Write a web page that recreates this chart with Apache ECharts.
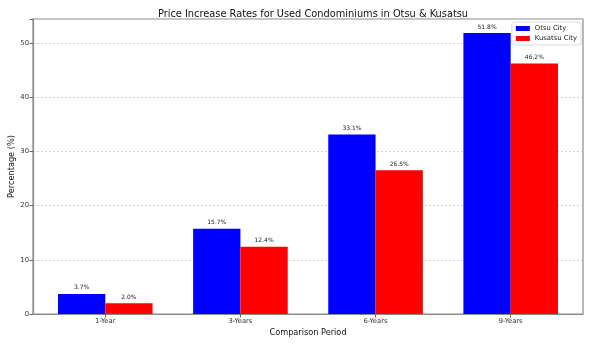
<!DOCTYPE html>
<html>
<head>
<meta charset="utf-8">
<script src="https://cdn.jsdelivr.net/npm/echarts@6/dist/echarts.min.js"></script>
<style>html,body{margin:0;padding:0;background:#fff}#c{width:591px;height:345px}</style>
</head>
<body>
<div id="c"></div>
<script>
const categories = ['1-Year', '3-Years', '6-Years', '9-Years'];
const otsuValues = [3.7, 15.7, 33.1, 51.8];
const kusatsuValues = [2.0, 12.4, 26.5, 46.2];
const yTicks = [0, 10, 20, 30, 40, 50];
const seriesNames = ['Otsu City', 'Kusatsu City'];
const titleText = 'Price Increase Rates for Used Condominiums in Otsu & Kusatsu';
const xLabel = 'Comparison Period';
const yLabel = 'Percentage (%)';

const font = 'DejaVu Sans';
const chart = echarts.init(document.getElementById('c'), null, {renderer: 'canvas'});
const idx = categories.map((c, i) => i);
const frame = '#8c8c8c';
chart.setOption({
  animation: false,
  textStyle: {fontFamily: font},
  title: {text: titleText, left: 308, textAlign: 'center', top: 4,
    textStyle: {fontFamily: font, fontSize: 9.8, fontWeight: 'normal', color: '#111'}},
  legend: {data: seriesNames, orient: 'vertical', right: 10, top: 22,
    itemWidth: 14, itemHeight: 5, itemGap: 3, padding: [3, 4],
    backgroundColor: 'rgba(255,255,255,0.8)', borderColor: '#dcdcdc', borderWidth: 1, borderRadius: 2,
    textStyle: {fontFamily: font, fontSize: 6.8, color: '#222'}, icon: 'rect'},
  grid: {left: 33, right: 8, top: 19, bottom: 31, show: true, borderColor: frame, borderWidth: 1.2,
    containLabel: false, outerBoundsMode: 'none'},
  xAxis: {type: 'value', min: -0.535, max: 3.535,
    name: xLabel, nameLocation: 'middle', nameGap: 15, nameMoveOverlap: false,
    nameTextStyle: {fontFamily: font, fontSize: 8.2, color: '#111'},
    axisLine: {show: true, onZero: false, lineStyle: {color: frame, width: 1.2}},
    axisTick: {show: true, customValues: idx, length: 3.5, lineStyle: {color: '#666'}},
    axisLabel: {customValues: idx, formatter: v => categories[Math.round(v)], fontSize: 6.8, color: '#333', margin: 4, fontFamily: font},
    splitLine: {show: false}},
  yAxis: {type: 'value', min: 0, max: 54.39, interval: 10,
    name: yLabel, nameLocation: 'middle', nameGap: 17, nameRotate: 90, nameMoveOverlap: false,
    nameTextStyle: {fontFamily: font, fontSize: 8.2, color: '#111'},
    axisLine: {show: true, onZero: false, lineStyle: {color: frame, width: 1.2}},
    axisTick: {show: true, length: 3.5, lineStyle: {color: '#666'}},
    axisLabel: {fontSize: 6.8, color: '#333', margin: 4, fontFamily: font,
      formatter: v => yTicks.includes(v) ? String(v) : ''},
    splitLine: {show: true, lineStyle: {color: '#c8c8c8', type: [2, 2], width: 0.8}}},
  series: [
    {name: seriesNames[0], type: 'bar', barWidth: '35%', barGap: '0%',
      data: otsuValues.map((v, i) => [i, v]), itemStyle: {color: '#0000ff'},
      label: {show: true, position: 'top', distance: 3, fontSize: 6, color: '#222', fontFamily: font,
        formatter: p => p.value[1].toFixed(1) + '%'}},
    {name: seriesNames[1], type: 'bar', barWidth: '35%', barGap: '0%',
      data: kusatsuValues.map((v, i) => [i, v]), itemStyle: {color: '#ff0000'},
      label: {show: true, position: 'top', distance: 3, fontSize: 6, color: '#222', fontFamily: font,
        formatter: p => p.value[1].toFixed(1) + '%'}}
  ]
});
</script>
</body>
</html>
